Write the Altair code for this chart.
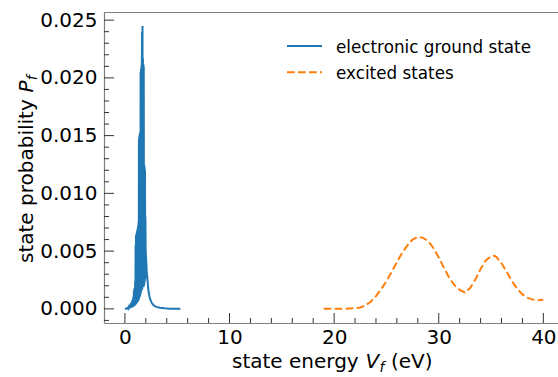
import altair as alt
import pandas as pd

# ---------------- data ----------------
ground_x = [0.00, 0.10, 0.20, 0.25, 0.30, 0.35, 0.40, 0.45, 0.50, 0.55, 0.60, 0.65,
            0.70, 0.75, 0.80, 0.83, 0.86, 0.89, 0.92, 0.95, 0.98, 1.00, 1.02, 1.04,
            1.06, 1.08, 1.10, 1.12, 1.14, 1.16, 1.18, 1.20, 1.22, 1.24, 1.26, 1.28,
            1.30, 1.32, 1.34, 1.36, 1.38, 1.40, 1.42, 1.44, 1.46, 1.48, 1.50, 1.52,
            1.54, 1.56, 1.58, 1.60, 1.62, 1.64, 1.66, 1.68, 1.70, 1.72, 1.74, 1.76,
            1.78, 1.80, 1.82, 1.84, 1.86, 1.88, 1.90, 1.92, 1.94, 1.96, 1.98, 2.00,
            2.04, 2.09, 2.14, 2.20, 2.26, 2.35, 2.45, 2.55, 2.70, 2.85, 3.00, 3.35,
            3.80, 4.30, 4.80, 5.30]
ground_y = [0.00000, 0.00001, 0.00004, 0.00002, 0.00010, 0.00003, 0.00020, 0.00005,
            0.00030, 0.00008, 0.00055, 0.00012, 0.00075, 0.00015, 0.00105, 0.00020,
            0.00160, 0.00025, 0.00180, 0.00030, 0.00240, 0.00035, 0.00550, 0.00040,
            0.00640, 0.00045, 0.00650, 0.00050, 0.00670, 0.00055, 0.00680, 0.00060,
            0.00700, 0.00065, 0.00720, 0.00070, 0.00750, 0.00080, 0.01470, 0.00090,
            0.01500, 0.00100, 0.01520, 0.00110, 0.01530, 0.00120, 0.02050, 0.00140,
            0.02080, 0.00150, 0.02110, 0.00160, 0.02150, 0.02400, 0.00170, 0.02450,
            0.00670, 0.02170, 0.00800, 0.02120, 0.00190, 0.02100, 0.00200, 0.01250,
            0.00220, 0.01230, 0.00240, 0.01200, 0.00260, 0.00800, 0.00520, 0.00480,
            0.00410, 0.00320, 0.00270, 0.00200, 0.00150, 0.00105, 0.00075, 0.00055,
            0.00035, 0.00023, 0.00017, 0.00010, 0.00005, 0.00002, 0.00001, 0.00000]

excited_x = [19.0, 20.0, 21.0, 22.0, 22.5, 23.0, 23.5, 24.0, 24.5, 25.0, 25.5, 26.0,
             26.5, 27.0, 27.5, 28.0, 28.5, 29.0, 29.5, 30.0, 30.5, 31.0, 31.5, 32.0,
             32.5, 33.0, 33.5, 34.0, 34.5, 35.0, 35.3, 35.5, 36.0, 36.5, 37.0, 37.5,
             38.0, 38.5, 39.0, 39.5, 40.0]
excited_y = [0.00000, 0.00000, 0.00001, 0.00005, 0.00012, 0.00030, 0.00062, 0.00110,
             0.00170, 0.00240, 0.00320, 0.00405, 0.00485, 0.00550, 0.00600, 0.00625,
             0.00615, 0.00585, 0.00525, 0.00445, 0.00355, 0.00270, 0.00205, 0.00165,
             0.00142, 0.00180, 0.00255, 0.00345, 0.00420, 0.00455, 0.00460, 0.00450,
             0.00395, 0.00320, 0.00240, 0.00175, 0.00125, 0.00095, 0.00080, 0.00075,
             0.00078]

series_names = ["electronic ground state", "excited states"]
x_tick_labels = [0, 10, 20, 30, 40]
y_tick_labels = [0.000, 0.005, 0.010, 0.015, 0.020, 0.025]
x_minor_ticks = [v for v in range(2, 41, 2) if v % 10 != 0]
y_minor_ticks = [i / 1000 for i in range(-1, 26) if i % 5 != 0]
x_title_parts = ["state energy", "V", "f", "(eV)"]
y_title_parts = ["state probability", "P", "f"]

# ---------------- layout / style ----------------
W, H = 454, 311
FONT = "DejaVu Sans"
BLUE, ORANGE = "#1f77b4", "#ff7f0e"
FRAME = "#808080"
TICK = "#333333"

xs = alt.Scale(domain=[-2.0, 41.4], nice=False, zero=False)
ys = alt.Scale(domain=[-0.001224, 0.025704], nice=False, zero=False)

ground = pd.DataFrame({"x": ground_x, "y": ground_y})
excited = pd.DataFrame({"x": excited_x, "y": excited_y})
one = pd.DataFrame({"a": [0]})

x_axis = alt.Axis(values=x_tick_labels, format="d", ticks=False, grid=False,
                  labelFontSize=20, labelFont=FONT, labelColor="black",
                  labelPadding=4, domainColor=FRAME, domainWidth=1.2, title=None,
                  orient="bottom")
y_axis = alt.Axis(values=y_tick_labels, format=".3f", ticks=False, grid=False,
                  labelFontSize=20, labelFont=FONT, labelColor="black",
                  labelPadding=7, domainColor=FRAME, domainWidth=1.2, title=None,
                  orient="left")

X = alt.X("x:Q", scale=xs, axis=x_axis)
Y = alt.Y("y:Q", scale=ys, axis=y_axis)

blue = alt.Chart(ground).mark_line(color=BLUE, strokeWidth=2).encode(x=X, y=Y)
orange = alt.Chart(excited).mark_line(color=ORANGE, strokeWidth=2,
                                      strokeDash=[7.7, 3.3]).encode(x=X, y=Y)

def yticks(vals, length):
    return alt.Chart(pd.DataFrame({"y": vals})).mark_rule(
        color=TICK, strokeWidth=1).encode(
        y=Y, x=alt.value(0), x2=alt.value(length))

def xticks(vals, length):
    return alt.Chart(pd.DataFrame({"x": vals})).mark_rule(
        color=TICK, strokeWidth=1).encode(
        x=X, y=alt.value(H), y2=alt.value(H - length))

top_spine = alt.Chart(one).mark_rule(color=FRAME, strokeWidth=1.2).encode(
    x=alt.value(0), x2=alt.value(W), y=alt.value(0.5))

def txt(s, x, y, size=20, style="normal", angle=0, align="left",
        baseline="alphabetic"):
    kw = dict(text=s, font=FONT, fontSize=size, fontStyle=style,
              align=align, baseline=baseline, color="black")
    if angle:
        kw["angle"] = angle
    return alt.Chart(one).mark_text(**kw).encode(x=alt.value(x), y=alt.value(y))

# x axis title: state energy V_f (eV)
xt_y = 356
xt0 = 128
x_title = [
    txt(x_title_parts[0], xt0, xt_y),
    txt(x_title_parts[1], xt0 + 133.4, xt_y, style="italic"),
    txt(x_title_parts[2], xt0 + 147.6, xt_y + 4, size=14, style="italic"),
    txt(x_title_parts[3], xt0 + 159.0, xt_y),
]
# y axis title: state probability P_f (rotated)
yt_x = -71
yt0 = 251
y_title = [
    txt(y_title_parts[0], yt_x, yt0, angle=270),
    txt(y_title_parts[1], yt_x, yt0 - 170.6, style="italic", angle=270),
    txt(y_title_parts[2], yt_x + 4, yt0 - 182.7, size=14, style="italic", angle=270),
]

# legend
leg = [
    alt.Chart(one).mark_rule(color=BLUE, strokeWidth=2).encode(
        x=alt.value(183), x2=alt.value(218), y=alt.value(34)),
    alt.Chart(one).mark_rule(color=ORANGE, strokeWidth=2,
                             strokeDash=[7.7, 3.3]).encode(
        x=alt.value(183), x2=alt.value(218), y=alt.value(60.3)),
    txt(series_names[0], 232, 40.7, size=16.8),
    txt(series_names[1], 232, 67.0, size=16.8),
]

chart = alt.layer(
    blue, orange,
    yticks(y_tick_labels, 10), yticks(y_minor_ticks, 5),
    xticks(x_tick_labels, 10), xticks(x_minor_ticks, 5),
    top_spine, *x_title, *y_title, *leg,
).properties(
    width=W, height=H,
    autosize=alt.AutoSizeParams(type="none"),
    padding={"left": 104, "top": 12, "right": 0, "bottom": 54},
    background="white",
).configure_view(stroke=None)

chart.save("out.html", embed_options={"renderer": "svg", "actions": False})
